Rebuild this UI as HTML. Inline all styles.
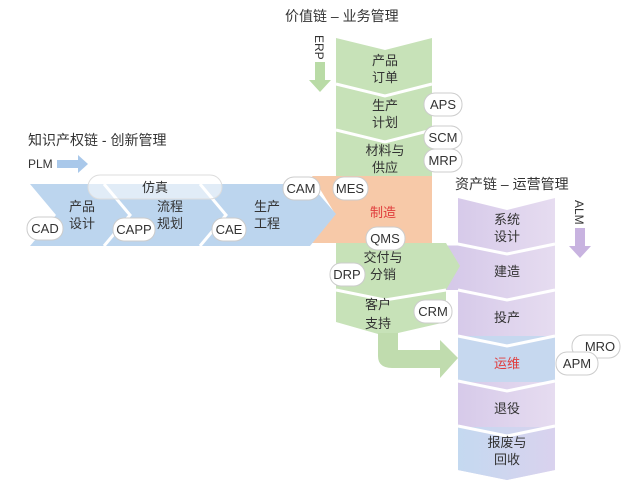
<!DOCTYPE html>
<html><head><meta charset="utf-8"><style>
body{margin:0;background:#fff;}
svg text{font-family:"Liberation Sans","Noto Sans CJK SC",sans-serif;}
</style></head><body>
<svg width="640" height="481" viewBox="0 0 640 481" xmlns="http://www.w3.org/2000/svg">
<defs>
<linearGradient id="pg" x1="0" x2="1"><stop offset="0" stop-color="#d3c6e8"/><stop offset="1" stop-color="#e6dcf0"/></linearGradient>
<linearGradient id="bg" x1="0" x2="1"><stop offset="0" stop-color="#c4d9f0"/><stop offset="1" stop-color="#d9d2ee"/></linearGradient>
</defs>
<text x="28" y="145" font-size="14" fill="#333">知识产权链 - 创新管理</text>
<text x="28" y="168" font-size="12" fill="#333">PLM</text>
<polygon points="57,160 78,160 78,155 88,164 78,173 78,168 57,168" fill="#a9c8ea"/>
<text x="285" y="21" font-size="14" fill="#333">价值链 – 业务管理</text>
<text transform="translate(315,35) rotate(90)" font-size="12" fill="#333">ERP</text>
<polygon points="315,62 325,62 325,80 331,80 320,92 309,80 315,80" fill="#b9dba6"/>
<text x="455" y="189" font-size="14" fill="#333">资产链 – 运营管理</text>
<text transform="translate(575,200) rotate(90)" font-size="12" fill="#333">ALM</text>
<polygon points="575,228 585,228 585,246 591,246 580,258 569,246 575,246" fill="#c8b3e0"/>

<polygon points="436,244 458,244 458,198 507,210 555,198 555,470 507,480 458,470 458,290 436,290 455,266" fill="url(#pg)"/>
<rect x="458" y="336" width="97" height="46" fill="#c6d8ef"/>
<polygon points="458,427 555,427 555,470 507,480 458,470" fill="url(#bg)"/>
<g stroke="#fff" stroke-width="3" fill="none">
<polyline points="436,244 458,244 507,254 555,244"/>
<polyline points="458,290 507,300 555,290"/>
<polyline points="458,336 507,346 555,336"/>
<polyline points="458,381 507,391 555,381"/>
<polyline points="458,426 507,436 555,426"/>
</g>

<polygon points="336,38 385,50 432,38 432,178 336,178" fill="#c7e2b8"/>
<polygon points="336,243 446,243 460,266 446,290 446,322 385,336 336,322" fill="#c7e2b8"/>
<path d="M378,333 L378,356 Q378,368 392,368 L440,368 L440,378 L458,358 L440,340 L440,350 L398,350 L398,333 Z" fill="#c0dcae"/>
<g stroke="#fff" stroke-width="3" fill="none">
<polyline points="336,84 385,96 432,84"/>
<polyline points="336,130 385,142 432,130"/>
<polyline points="336,290 385,300 446,290"/>
</g>
<polygon points="312,176 432,176 432,243 308,243 334,212" fill="#f7c9a8"/>

<polygon points="30,184 310,184 336,214 310,246 30,246 56,215" fill="#bcd5ee"/>
<g stroke="#fff" stroke-width="3" fill="none">
<polyline points="104,184 130,215 104,246"/>
<polyline points="200,184 226,215 200,246"/>
</g>
<rect x="88" y="175" width="134" height="24" rx="12" fill="#fff" fill-opacity="0.55" stroke="#ddd"/>
<text x="155" y="192" font-size="13" text-anchor="middle" fill="#333">仿真</text>

<g font-size="13" fill="#333" text-anchor="middle">
<text x="82" y="211">产品</text><text x="82" y="228">设计</text>
<text x="170" y="211">流程</text><text x="170" y="228">规划</text>
<text x="267" y="211">生产</text><text x="267" y="228">工程</text>
<text x="385" y="65">产品</text><text x="385" y="82">订单</text>
<text x="385" y="110">生产</text><text x="385" y="127">计划</text>
<text x="385" y="155">材料与</text><text x="385" y="172">供应</text>
<text x="383" y="217" fill="#e03c3c">制造</text>
<text x="383" y="262">交付与</text><text x="383" y="279">分销</text>
<text x="378" y="309">客户</text><text x="378" y="328">支持</text>
<text x="507" y="224">系统</text><text x="507" y="241">设计</text>
<text x="507" y="276">建造</text>
<text x="507" y="322">投产</text>
<text x="507" y="368" fill="#e03c3c">运维</text>
<text x="507" y="413">退役</text>
<text x="507" y="447">报废与</text><text x="507" y="464">回收</text>
</g>

<g font-size="13" fill="#333" text-anchor="middle">
<g stroke="#ccc" fill="#fff">
<rect x="27" y="217" width="36" height="23" rx="11"/>
<rect x="113" y="218" width="42" height="23" rx="11"/>
<rect x="212" y="218" width="34" height="23" rx="11"/>
<rect x="283" y="177" width="37" height="23" rx="11"/>
<rect x="333" y="177" width="35" height="23" rx="11"/>
<rect x="366" y="227" width="39" height="23" rx="11"/>
<rect x="424" y="93" width="38" height="23" rx="11"/>
<rect x="424" y="126" width="38" height="23" rx="11"/>
<rect x="424" y="149" width="38" height="23" rx="11"/>
<rect x="330" y="263" width="35" height="23" rx="11"/>
<rect x="414" y="300" width="38" height="23" rx="11"/>
<rect x="572" y="335" width="48" height="23" rx="11"/>
<rect x="556" y="352" width="42" height="23" rx="11"/>
</g>
<text x="45" y="233">CAD</text>
<text x="134" y="234">CAPP</text>
<text x="229" y="234">CAE</text>
<text x="301" y="193">CAM</text>
<text x="350" y="193">MES</text>
<text x="385" y="243">QMS</text>
<text x="443" y="109">APS</text>
<text x="443" y="142">SCM</text>
<text x="443" y="165">MRP</text>
<text x="347" y="279">DRP</text>
<text x="433" y="316">CRM</text>
<text x="600" y="351">MRO</text>
<text x="577" y="368">APM</text>
</g>
</svg>
</body></html>
